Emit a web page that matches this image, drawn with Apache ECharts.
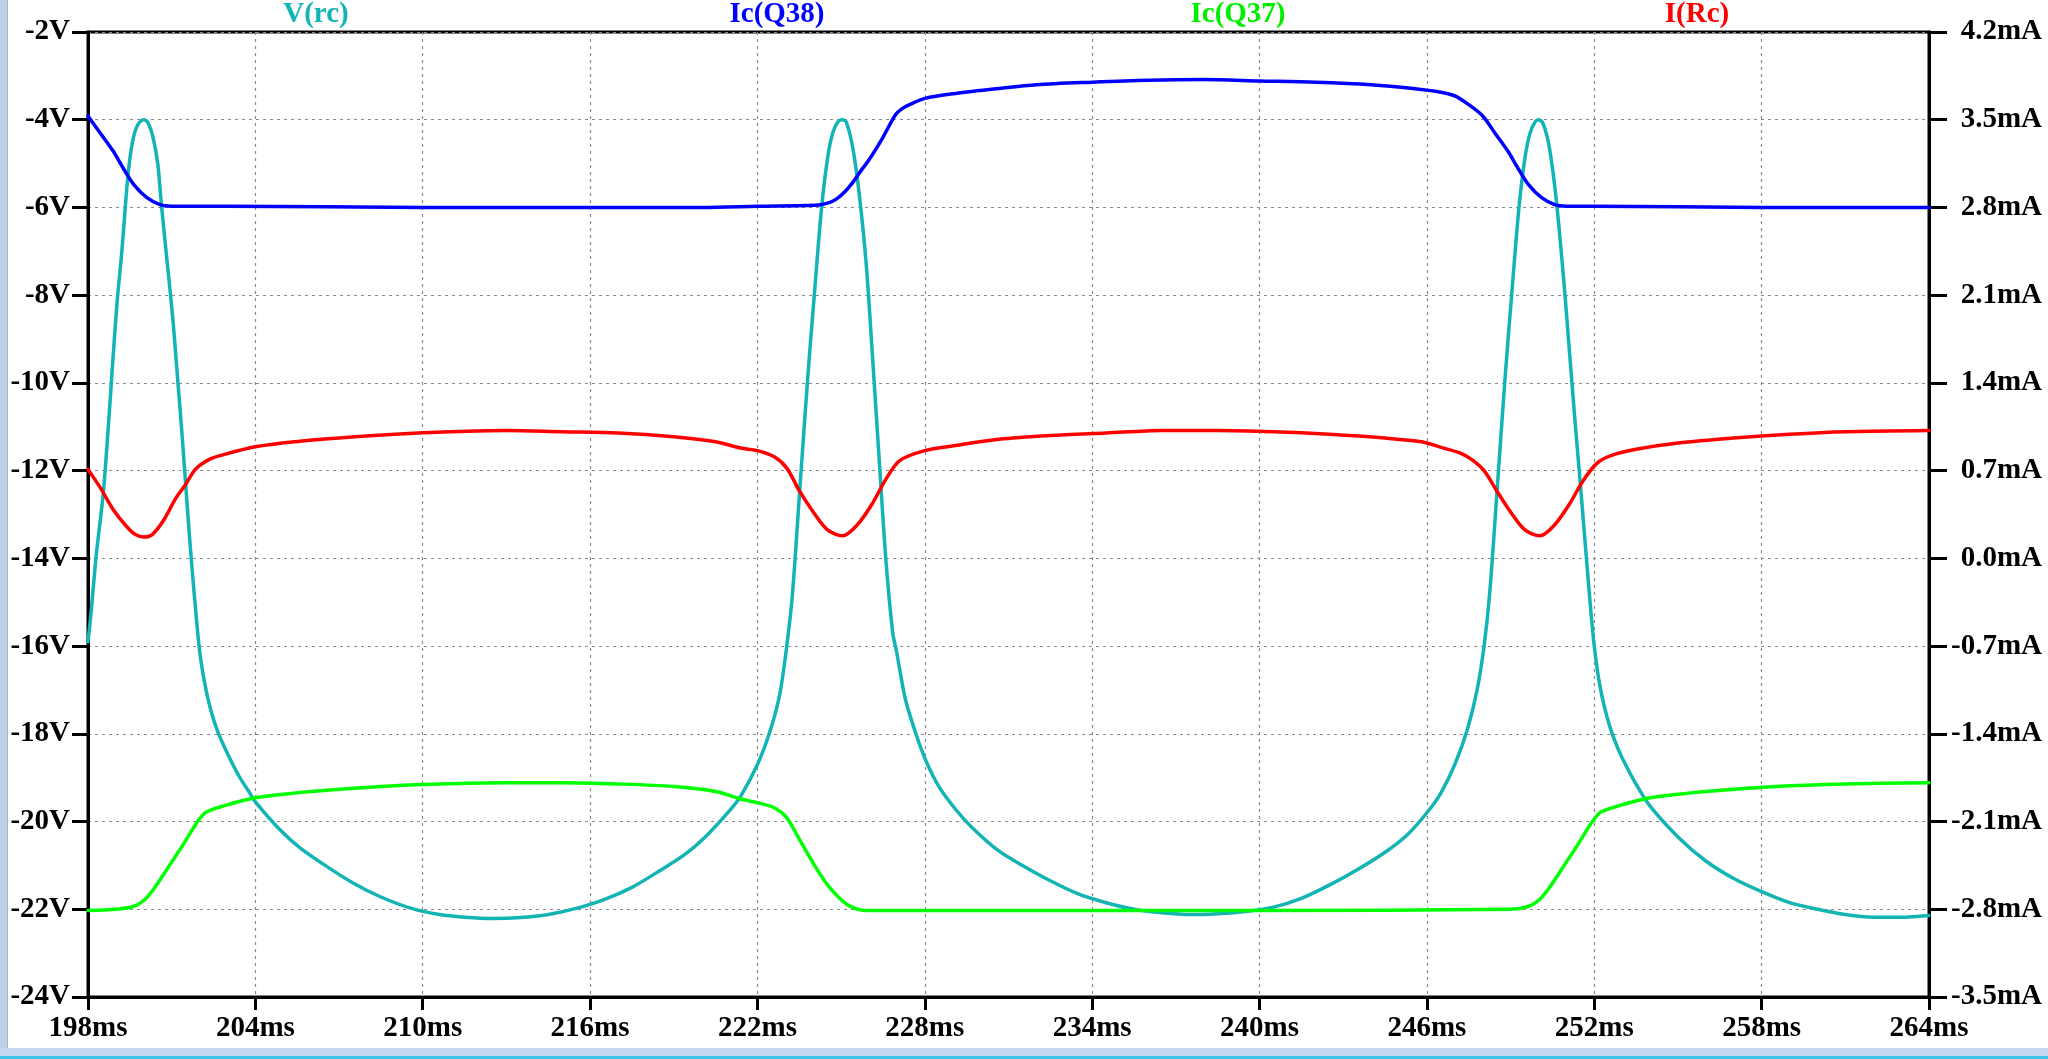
<!DOCTYPE html>
<html><head><meta charset="utf-8">
<script src="https://cdn.jsdelivr.net/npm/echarts@6/dist/echarts.min.js"></script>
<style>html,body{margin:0;padding:0;background:#fff;overflow:hidden}#c{width:2048px;height:1059px}</style>
</head><body><div id="c"></div>
<script>
// ---- data (time in ms) ----
const seriesNames = ['V(rc)', 'Ic(Q38)', 'Ic(Q37)', 'I(Rc)'];
const xAxisRange = [198, 264, 6];      // min, max, step (ms)
const leftAxisRange = [-24, -2, 2];    // V
const rightAxisRange = [-3.5, 4.2, 0.7]; // mA

// V(rc) in volts
const vRc = [
  [198.0,-15.9],[198.1,-15.3],[198.3,-13.9],[198.55,-12.5],[198.75,-10.8],[198.9,-9.4],[199.05,-8.1],
  [199.2,-7.1],[199.3,-6.3],[199.4,-5.5],[199.52,-4.8],[199.65,-4.35],[199.8,-4.1],[200.0,-4.0],
  [200.15,-4.07],[200.33,-4.4],[200.5,-5.0],[200.62,-5.85],[200.75,-6.7],[200.88,-7.5],[201.05,-8.6],
  [201.2,-9.8],[201.35,-11.0],[201.5,-12.3],[201.65,-13.6],[201.82,-14.9],[202.0,-16.1],[202.2,-16.9],
  [202.4,-17.45],[202.65,-17.95],[203.0,-18.45],[203.4,-18.95],[203.8,-19.35],[204.0,-19.55],[204.9,-20.2],
  [205.6,-20.6],[206.5,-21.0],[207.5,-21.4],[208.5,-21.72],[209.6,-21.98],[210.6,-22.12],[211.5,-22.18],
  [212.5,-22.21],[213.5,-22.19],[214.5,-22.12],[215.5,-21.98],[216.5,-21.78],[217.5,-21.5],[218.5,-21.12],
  [219.4,-20.75],[220.1,-20.37],[221.0,-19.75],[221.4,-19.42],[222.0,-18.7],[222.45,-17.94],[222.8,-17.1],
  [223.05,-16.0],[223.25,-14.85],[223.5,-12.6],[223.8,-9.9],[224.05,-7.9],[224.3,-6.0],[224.52,-4.85],
  [224.7,-4.3],[224.88,-4.05],[225.03,-4.0],[225.18,-4.05],[225.42,-4.65],[225.65,-5.7],[225.9,-7.3],
  [226.13,-9.45],[226.37,-11.8],[226.6,-14.0],[226.85,-15.7],[226.98,-16.1],[227.3,-17.2],[227.68,-18.0],
  [228.03,-18.6],[228.5,-19.2],[229.1,-19.72],[229.7,-20.14],[230.65,-20.67],[231.5,-21.0],[232.5,-21.35],
  [233.5,-21.65],[234.5,-21.85],[235.5,-22.0],[236.5,-22.08],[237.5,-22.12],[238.5,-22.1],[239.5,-22.05],
  [240.5,-21.95],[241.5,-21.75],[242.5,-21.45],[243.5,-21.1],[244.5,-20.7],[245.3,-20.3],[246.0,-19.8],
  [246.5,-19.35],[247.0,-18.7],[247.45,-17.9],[247.8,-17.0],[248.05,-16.0],[248.25,-14.8],[248.5,-12.6],
  [248.8,-9.9],[249.05,-7.9],[249.3,-6.0],[249.52,-4.85],[249.7,-4.3],[249.88,-4.05],[250.0,-4.0],
  [250.15,-4.07],[250.35,-4.5],[250.5,-5.1],[250.65,-5.9],[250.8,-6.9],[250.95,-8.0],[251.1,-9.2],
  [251.3,-10.8],[251.5,-12.3],[251.68,-13.7],[251.85,-15.0],[252.0,-16.0],[252.2,-16.9],[252.45,-17.6],
  [252.7,-18.1],[253.0,-18.55],[253.5,-19.15],[254.0,-19.65],[255.0,-20.35],[256.0,-20.9],[257.0,-21.3],
  [258.0,-21.6],[259.0,-21.85],[260.0,-22.0],[261.0,-22.12],[262.0,-22.18],[263.0,-22.18],[264.0,-22.14]
];

// Ic(Q38) in mA
const icQ38 = [
  [198.0,3.53],[198.45,3.39],[198.9,3.25],[199.3,3.10],[199.65,2.98],[200.1,2.88],[200.6,2.82],[201.0,2.81],
  [203.0,2.81],[210.0,2.80],[220.0,2.80],[222.0,2.81],[224.2,2.82],[224.6,2.84],[224.85,2.87],[225.15,2.93],
  [225.42,3.0],[225.7,3.09],[226.0,3.18],[226.5,3.36],[226.95,3.54],[227.2,3.59],[227.45,3.62],[228.0,3.67],
  [229.1,3.71],[230.65,3.75],[232.0,3.78],[234.0,3.80],[236.0,3.815],[238.0,3.82],[240.0,3.81],[242.0,3.80],
  [244.0,3.78],[245.5,3.75],[246.5,3.72],[247.0,3.69],[247.5,3.62],[248.0,3.53],[248.45,3.39],[248.9,3.25],
  [249.3,3.10],[249.65,2.98],[250.1,2.88],[250.6,2.82],[251.0,2.81],[252.0,2.81],[258.0,2.80],[264.0,2.80]
];

// Ic(Q37) in mA
const icQ37 = [
  [198.0,-2.81],[199.0,-2.80],[199.6,-2.78],[200.0,-2.73],[200.35,-2.64],[200.95,-2.44],[201.45,-2.27],
  [201.9,-2.11],[202.2,-2.03],[202.5,-2.0],[203.1,-1.96],[204.0,-1.91],[206.0,-1.86],[208.5,-1.82],
  [210.6,-1.80],[213.0,-1.79],[215.0,-1.79],[217.0,-1.80],[219.0,-1.82],[220.5,-1.86],[221.4,-1.92],
  [222.0,-1.95],[222.6,-1.99],[223.05,-2.07],[223.5,-2.24],[224.1,-2.47],[224.6,-2.63],[225.2,-2.76],
  [225.9,-2.81],[230.0,-2.81],[240.0,-2.81],[249.0,-2.80],[249.6,-2.78],[250.0,-2.73],[250.35,-2.64],
  [250.95,-2.44],[251.45,-2.27],[251.9,-2.11],[252.2,-2.03],[252.5,-2.0],[253.1,-1.96],[254.0,-1.91],
  [256.0,-1.86],[258.5,-1.82],[261.0,-1.80],[264.0,-1.79]
];

// I(Rc) in mA
const iRc = [
  [198.0,0.71],[198.45,0.56],[198.9,0.39],[199.4,0.25],[199.7,0.19],[200.0,0.17],[200.3,0.19],[200.7,0.30],
  [201.15,0.48],[201.5,0.59],[201.85,0.71],[202.35,0.79],[202.9,0.83],[204.0,0.89],[205.4,0.93],[207.0,0.96],
  [209.0,0.99],[211.0,1.01],[213.0,1.02],[215.0,1.01],[217.0,1.0],[219.0,0.97],[220.5,0.93],[221.4,0.88],
  [222.0,0.86],[222.6,0.81],[223.05,0.72],[223.5,0.54],[224.0,0.37],[224.5,0.23],[225.05,0.18],[225.55,0.26],
  [226.1,0.43],[226.6,0.63],[227.1,0.78],[228.0,0.86],[229.1,0.90],[230.65,0.95],[232.5,0.98],[234.5,1.0],
  [236.5,1.02],[238.5,1.02],[240.5,1.01],[242.5,0.99],[244.5,0.96],[245.8,0.93],[246.6,0.88],[247.2,0.84],
  [247.6,0.79],[248.05,0.70],[248.5,0.54],[249.0,0.37],[249.5,0.23],[250.05,0.18],[250.55,0.26],[251.1,0.43],
  [251.6,0.62],[252.1,0.76],[252.6,0.82],[253.5,0.87],[255.0,0.92],[257.0,0.96],[259.0,0.99],[261.0,1.01],
  [264.0,1.02]
];

// ---- chart ----
const FONT = '"Liberation Serif", "Times New Roman", serif';
const FS = 29;
const colors = ['#12b4b4', '#0000ff', '#00ff00', '#ff0000'];
const labelX = [316, 777, 1238, 1697];

const chart = echarts.init(document.getElementById('c'), null, {renderer: 'canvas'});
const dashed = {color: '#8a8a8a', width: 1.2, type: [3, 4]};
const axisText = {color: '#000', fontFamily: FONT, fontWeight: 'bold', fontSize: FS};

chart.setOption({
  animation: false,
  backgroundColor: '#ffffff',
  grid: {
    left: 88, right: 119, top: 32, bottom: 62,
    show: true, borderColor: '#000', borderWidth: 3, backgroundColor: '#fff',
    containLabel: false, outerBoundsMode: 'none'
  },
  xAxis: {
    type: 'value', min: xAxisRange[0], max: xAxisRange[1], interval: xAxisRange[2],
    axisLine: {show: true, onZero: false, lineStyle: {color: '#000', width: 3}},
    axisTick: {show: true, length: 13, lineStyle: {color: '#000', width: 3}},
    axisLabel: Object.assign({margin: 17, formatter: v => v + 'ms'}, axisText),
    splitLine: {show: true, lineStyle: dashed}
  },
  yAxis: [{
    type: 'value', position: 'left', min: leftAxisRange[0], max: leftAxisRange[1], interval: leftAxisRange[2],
    axisLine: {show: true, onZero: false, lineStyle: {color: '#000', width: 3}},
    axisTick: {show: true, length: 16, lineStyle: {color: '#000', width: 3}},
    axisLabel: Object.assign({margin: 18, formatter: v => v + 'V'}, axisText),
    splitLine: {show: true, lineStyle: dashed}
  }, {
    type: 'value', position: 'right', min: rightAxisRange[0], max: rightAxisRange[1], interval: rightAxisRange[2],
    axisLine: {show: true, onZero: false, lineStyle: {color: '#000', width: 3}},
    axisTick: {show: true, length: 18, lineStyle: {color: '#000', width: 3}},
    axisLabel: Object.assign({margin: 113, align: 'right', formatter: v => {
      let r = Math.round(v * 10) / 10; if (r === 0) r = 0; return r.toFixed(1) + 'mA';
    }}, axisText),
    splitLine: {show: false}
  }],
  series: [
    {name: seriesNames[0], type: 'line', yAxisIndex: 0, data: vRc, color: colors[0]},
    {name: seriesNames[1], type: 'line', yAxisIndex: 1, data: icQ38, color: colors[1]},
    {name: seriesNames[2], type: 'line', yAxisIndex: 1, data: icQ37, color: colors[2]},
    {name: seriesNames[3], type: 'line', yAxisIndex: 1, data: iRc, color: colors[3]}
  ].map(s => Object.assign(s, {
    showSymbol: false, symbol: 'none', smooth: 0.3,
    lineStyle: {width: 3.5, color: s.color, join: 'round', cap: 'round'}, emphasis: {disabled: true}
  })),
  graphic: [
    {type: 'rect', shape: {x: 0, y: 0, width: 7, height: 1059}, style: {fill: '#bdd3ec'}, silent: true},
    {type: 'rect', shape: {x: 7, y: 0, width: 1, height: 1048}, style: {fill: '#a9b4c0'}, silent: true},
    {type: 'rect', shape: {x: 0, y: 1048, width: 2048, height: 11}, style: {fill: '#c3d8ef'}, silent: true},
    {type: 'rect', shape: {x: 0, y: 1056, width: 2048, height: 3}, style: {fill: '#3fc3e6'}, silent: true}
  ].concat(seriesNames.map((n, i) => ({
    type: 'text', x: labelX[i], y: 15, silent: true,
    style: {text: n, fill: colors[i] === '#00ff00' ? '#00ee00' : colors[i],
      font: 'bold ' + FS + 'px ' + FONT, textAlign: 'center', textVerticalAlign: 'middle'}
  })))
});
</script></body></html>
